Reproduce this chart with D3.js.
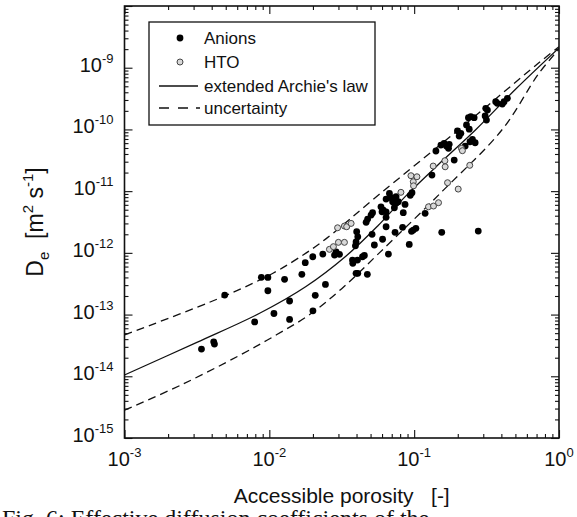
<!DOCTYPE html>
<html><head><meta charset="utf-8">
<script src="https://cdn.jsdelivr.net/npm/d3@7"></script>
<style>
body{margin:0;background:#fff}
svg{display:block}
text{font-family:"Liberation Sans",Arial,sans-serif;fill:#111}
</style>
</head><body>
<svg id="c" width="577" height="517"></svg>
<script>
// ---- data ----
const anionsEps=[0.00492,0.00881,0.00977,0.00977,0.01274,0.01677,0.0177,0.01995,0.0234,0.0282,0.0244,0.02075,0.0138,0.01076,0.00792,0.0138,0.0200,0.00413,0.00418,0.0034,0.0377,0.0397,
0.0289,0.0305,0.0375,0.0406,0.0440,0.0393,0.0397,0.0408,0.0401,0.0408,0.0475,0.0453,0.0531,0.0605,0.0512,0.0466,0.0477,0.0504,0.0516,0.064,0.064,0.0664,0.0738,0.0832,0.0841,
0.073,0.075,0.071,0.0692,0.075,0.0777,0.059,0.0612,0.064,0.060,0.0675,0.094,0.0966,0.064,0.0865,0.0925,0.0959,0.0986,0.1028,0.119,0.1327,0.1413,0.153,0.161,0.167,0.1745,0.1726,0.189,
0.155,0.277,0.199,0.2045,0.21,0.24,0.2298,0.225,0.243,0.237,0.246,0.2594,0.2525,0.2636,0.309,0.312,0.3205,0.3656,0.375,0.406,0.4175,0.44,0.3156];
const anionsDe=[2.07e-13,4.01e-13,4.0e-13,2.43e-13,3.72e-13,4.49e-13,6.92e-13,8.65e-13,9.57e-13,9.2e-13,3.08e-13,2.05e-13,1.66e-13,1.04e-13,7.6e-14,8.35e-14,1.15e-13,3.62e-14,3.33e-14,2.76e-14,6.76e-13,4.66e-13,
1.04e-12,9.46e-13,7.64e-13,7.64e-13,8.65e-13,1.30e-12,1.50e-12,1.82e-12,2.2e-12,4.66e-13,4.49e-13,9.1e-13,1.34e-12,1.66e-12,2.0e-12,3.12e-12,3.53e-12,4.1e-12,4.47e-12,2.65e-12,3.76e-12,9.57e-13,2.15e-12,2.59e-12,4.47e-12,
5.38e-12,6.34e-12,6.73e-12,7.82e-12,8.11e-12,6.73e-12,5.58e-12,4.94e-12,4.63e-12,4.63e-12,9.2e-12,8.55e-12,9.42e-12,7.45e-12,6.1e-12,1.37e-12,2.23e-12,2.34e-12,2.5e-12,4.37e-12,1.82e-11,4.47e-11,5.58e-11,5.95e-11,5.38e-11,5.74e-11,4.94e-11,3.19e-11,
2.15e-12,2.25e-12,9.5e-11,7.8e-11,8.65e-11,1.01e-10,1.18e-10,5.38e-11,6.32e-11,1.55e-10,1.61e-10,1.55e-10,6.92e-11,6.08e-11,1.65e-10,2.2e-10,2.06e-10,2.81e-10,2.65e-10,2.58e-10,2.81e-10,3.19e-10,1.42e-10];
const htoEps=[0.0296,0.033,0.0342,0.0367,0.026,0.0277,0.030,0.033,0.081,0.095,0.1045,0.0986,0.099,0.1256,0.136,0.1473,0.170,0.2014,0.1353,0.163,0.1637,0.212,0.2153,0.242];
const htoDe=[2.55e-12,2.72e-12,2.65e-12,3.0e-12,1.14e-12,1.26e-12,1.48e-12,1.48e-12,9.57e-12,1.78e-11,1.71e-11,1.42e-11,1.22e-11,5.58e-12,5.74e-12,6.5e-12,1.37e-11,1.08e-11,2.55e-11,3.11e-11,2.48e-11,4.94e-11,4.52e-11,2.62e-11];
const archieEps=[0.001,0.00316,0.00857,0.0178,0.0339,0.0562,0.0891,0.158,0.267,0.501,1];
const archieDe=[1.05e-14,3.55e-14,1.05e-13,2.82e-13,8.9e-13,2.75e-12,8.7e-12,3.16e-11,1.0e-10,4.47e-10,2.09e-9];
const upperEps=[0.001,0.00479,0.0106,0.018,0.0247,0.0575,0.204,0.726,1];
const upperDe=[4.68e-14,1.95e-13,4.68e-13,1.0e-12,1.7e-12,8.9e-12,1.0e-10,1.2e-9,2.19e-9];
const lowerEps=[0.001,0.00251,0.00624,0.0112,0.019,0.0316,0.0575,0.1567,0.406,0.726,1];
const lowerDe=[2.82e-15,7.4e-15,2.19e-14,4.7e-14,1.0e-13,2.63e-13,1.0e-12,1.0e-11,1.0e-10,8.1e-10,2.0e-9];
const xTickExps=[-3,-2,-1,0];
const yTickExps=[-9,-10,-11,-12,-13,-14,-15];
const legendLabels=["Anions","HTO","extended Archie's law","uncertainty"];
const xTitle="Accessible porosity   [-]";
const caption="Fig. 6: Effective diffusion coefficients of the";

// ---- layout ----
const M={l:124.5,r:559,t:6,b:438};
const svg=d3.select("#c");
const x=d3.scaleLog().domain([1e-3,1]).range([M.l,M.r]);
const y=d3.scaleLog().domain([1e-15,1e-8]).range([M.b,M.t]);

function minors(lo,hi){const a=[];for(let e=lo;e<hi;e++)for(let k=2;k<=9;k++)a.push(k*Math.pow(10,e));return a;}
const xMaj=xTickExps.map(e=>Math.pow(10,e));
const yMaj=d3.range(-15,-7).map(e=>Math.pow(10,e));
const xMin=minors(-3,0), yMin=minors(-15,-8);

function ax(gen,scale,vals,size,tr){
  const g=svg.append("g").attr("transform",tr)
    .call(gen(scale).tickValues(vals).tickSize(size).tickSizeOuter(0).tickFormat(""));
  g.select(".domain").remove();
  g.selectAll("line").attr("stroke","#111").attr("stroke-width",1.1);
}
ax(d3.axisBottom,x,xMaj,-8,`translate(0,${M.b})`);
ax(d3.axisBottom,x,xMin,-4,`translate(0,${M.b})`);
ax(d3.axisTop,x,xMaj,-8,`translate(0,${M.t})`);
ax(d3.axisTop,x,xMin,-4,`translate(0,${M.t})`);
ax(d3.axisLeft,y,yMaj,-8,`translate(${M.l},0)`);
ax(d3.axisLeft,y,yMin,-4,`translate(${M.l},0)`);
ax(d3.axisRight,y,yMaj,-8,`translate(${M.r},0)`);
ax(d3.axisRight,y,yMin,-4,`translate(${M.r},0)`);
svg.append("rect").attr("x",M.l).attr("y",M.t).attr("width",M.r-M.l).attr("height",M.b-M.t)
  .attr("fill","none").attr("stroke","#111").attr("stroke-width",1.6);

// tick labels
yTickExps.forEach(e=>{
  const t=svg.append("text").attr("x",M.l-11).attr("y",y(Math.pow(10,e))+4).attr("text-anchor","end").attr("font-size",20);
  t.append("tspan").text("10");
  t.append("tspan").attr("dy",-9).attr("font-size",13).text(String(e));
});
xTickExps.forEach(e=>{
  const t=svg.append("text").attr("x",x(Math.pow(10,e))).attr("y",466).attr("text-anchor","middle").attr("font-size",20);
  t.append("tspan").text("10");
  t.append("tspan").attr("dy",-9).attr("font-size",13).text(String(e));
});

// axis titles
const yt=svg.append("text").attr("transform",`translate(43,${(M.t+M.b)/2}) rotate(-90)`)
  .attr("text-anchor","middle").attr("font-size",23).style("white-space","pre");
yt.append("tspan").text("D");
yt.append("tspan").attr("dy",6).attr("font-size",15).text("e");
yt.append("tspan").attr("dy",-6).text("  [m");
yt.append("tspan").attr("dy",-10).attr("font-size",15).text("2");
yt.append("tspan").attr("dy",10).text(" s");
yt.append("tspan").attr("dy",-10).attr("font-size",15).text("-1");
yt.append("tspan").attr("dy",10).text("]");

svg.append("text").attr("x",(M.l+M.r)/2).attr("y",503).attr("text-anchor","middle")
  .attr("font-size",21).style("white-space","pre").text(xTitle);
svg.append("text").attr("x",2).attr("y",526).attr("font-size",24)
  .style("font-family","'Liberation Serif',serif").text(caption);

// curves
const line=d3.line().x(d=>x(d[0])).y(d=>y(d[1])).curve(d3.curveCatmullRom.alpha(0.5));
svg.append("clipPath").attr("id","pa").append("rect").attr("x",M.l).attr("y",M.t).attr("width",M.r-M.l).attr("height",M.b-M.t);
const plot=svg.append("g").attr("clip-path","url(#pa)");
plot.append("path").datum(d3.zip(archieEps,archieDe)).attr("d",line).attr("fill","none").attr("stroke","#111").attr("stroke-width",1.3);
[[upperEps,upperDe],[lowerEps,lowerDe]].forEach(([a,b])=>{
  plot.append("path").datum(d3.zip(a,b)).attr("d",line).attr("fill","none").attr("stroke","#111").attr("stroke-width",1.3).attr("stroke-dasharray","8,5");
});
// points
plot.selectAll("circle.an").data(d3.zip(anionsEps,anionsDe)).join("circle").attr("class","an")
  .attr("cx",d=>x(d[0])).attr("cy",d=>y(d[1])).attr("r",3.4).attr("fill","#000");
plot.selectAll("circle.ht").data(d3.zip(htoEps,htoDe)).join("circle").attr("class","ht")
  .attr("cx",d=>x(d[0])).attr("cy",d=>y(d[1])).attr("r",3).attr("fill","#d8d8d8").attr("stroke","#444").attr("stroke-width",1);

// legend
const lg=svg.append("g");
lg.append("rect").attr("x",149).attr("y",22).attr("width",226).attr("height",103).attr("fill","#fff").attr("stroke","#111").attr("stroke-width",1.3);
lg.append("circle").attr("cx",180).attr("cy",38).attr("r",3.4).attr("fill","#000");
lg.append("circle").attr("cx",180).attr("cy",62).attr("r",3).attr("fill","#d8d8d8").attr("stroke","#444");
lg.append("line").attr("x1",159).attr("x2",198).attr("y1",86).attr("y2",86).attr("stroke","#111").attr("stroke-width",1.3);
lg.append("line").attr("x1",159).attr("x2",201).attr("y1",108).attr("y2",108).attr("stroke","#111").attr("stroke-width",1.3).attr("stroke-dasharray","10,9,10,8,4,50");
const ly=[44,68,92,114];
legendLabels.forEach((s,i)=>lg.append("text").attr("x",204).attr("y",ly[i]).attr("font-size",17).text(s));
</script>
</body></html>
